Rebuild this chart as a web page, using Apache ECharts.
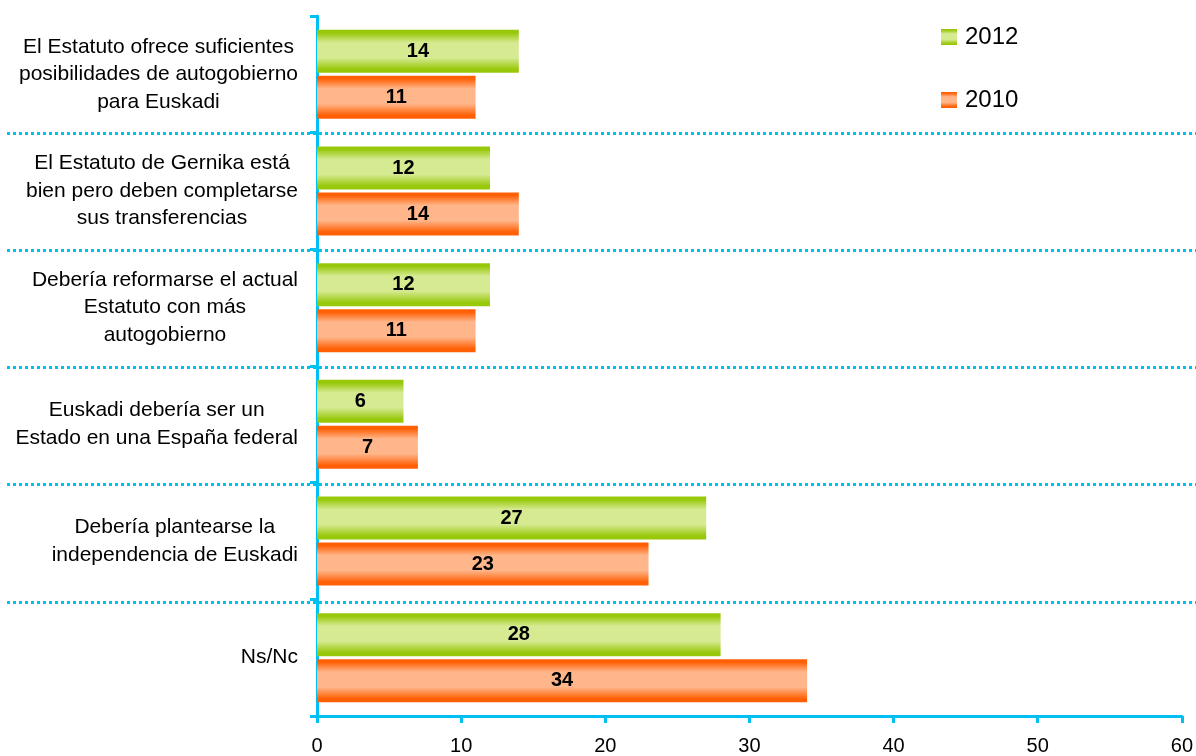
<!DOCTYPE html>
<html>
<head>
<meta charset="utf-8">
<script src="https://cdn.jsdelivr.net/npm/echarts@6/dist/echarts.min.js"></script>
<style>
  html, body { margin: 0; padding: 0; background: #fff; }
  #chart { width: 1196px; height: 756px; }
</style>
</head>
<body>
<div id="chart"></div>
<script>
// Opiniones sobre el Estatuto (%), 2012 frente a 2010
const categories = [
  'El Estatuto ofrece suficientes\nposibilidades de autogobierno\npara Euskadi',
  'El Estatuto de Gernika está\nbien pero deben completarse\nsus transferencias',
  'Debería reformarse el actual\nEstatuto con más\nautogobierno',
  'Euskadi debería ser un\nEstado en una España federal',
  'Debería plantearse la\nindependencia de Euskadi',
  'Ns/Nc'
];
const values2012 = [14, 12, 12, 6, 27, 28];
const values2010 = [11, 14, 11, 7, 23, 34];
const xTicks = { min: 0, max: 60, interval: 10 };

const AXIS_COLOR = '#00BFF3';
const FONT = '"Liberation Sans", Arial, sans-serif';

function bandGradient(dark, light) {
  return new echarts.graphic.LinearGradient(0, 0, 0, 1, [
    { offset: 0, color: dark },
    { offset: 0.07, color: dark },
    { offset: 0.3, color: light },
    { offset: 0.65, color: light },
    { offset: 0.92, color: dark },
    { offset: 1, color: dark }
  ]);
}

const barLabel = {
  show: true,
  position: 'inside',
  color: '#000',
  fontFamily: FONT,
  fontWeight: 'bold',
  fontSize: 20
};

// each label block sits against the axis; its lines are centred inside the block
function categoryLabel(text) {
  return text.split('\n').map(function (line) { return '{c|' + line + '}'; }).join('\n');
}

const chart = echarts.init(document.getElementById('chart'), null, { renderer: 'canvas' });

chart.setOption({
  animation: false,
  backgroundColor: '#fff',
  textStyle: { fontFamily: FONT },
  legend: {
    orient: 'vertical',
    left: 936,
    top: 20,
    icon: 'rect',
    itemWidth: 16,
    itemHeight: 16,
    itemGap: 39,
    textStyle: { fontSize: 24, color: '#000', fontFamily: FONT, padding: [0, 0, 0, 3] },
    data: ['2012', '2010']
  },
  grid: [
    { left: 317, right: 13, top: 16, bottom: 37, containLabel: false },
    // wide band used only for the dotted separators between categories
    { left: 7, right: 0, top: 16, bottom: 37, containLabel: false }
  ],
  xAxis: [
    {
      type: 'value',
      gridIndex: 0,
      min: xTicks.min,
      max: xTicks.max,
      interval: xTicks.interval,
      axisLine: { show: true, lineStyle: { color: AXIS_COLOR, width: 3 } },
      axisTick: { show: true, length: 7, lineStyle: { color: AXIS_COLOR, width: 3 } },
      axisLabel: { color: '#000', fontSize: 20, fontFamily: FONT, margin: 20 },
      splitLine: { show: false }
    },
    {
      type: 'value',
      gridIndex: 1,
      min: 0,
      max: 1,
      show: false
    }
  ],
  yAxis: [
    {
      type: 'category',
      gridIndex: 0,
      inverse: true,
      data: categories,
      axisLine: { show: true, lineStyle: { color: AXIS_COLOR, width: 3 } },
      axisTick: { show: true, length: 7, lineStyle: { color: AXIS_COLOR, width: 3 } },
      axisLabel: {
        color: '#000',
        fontSize: 21,
        fontFamily: FONT,
        lineHeight: 27.5,
        align: 'right',
        margin: 19,
        formatter: categoryLabel,
        rich: {
          c: {
            align: 'center',
            color: '#000',
            fontSize: 21,
            fontFamily: FONT,
            lineHeight: 27.5
          }
        }
      },
      splitLine: { show: false }
    },
    {
      type: 'value',
      gridIndex: 1,
      min: 0,
      max: categories.length,
      interval: 1,
      axisLine: { show: false },
      axisTick: { show: false },
      axisLabel: { show: false },
      splitLine: {
        show: true,
        showMinLine: false,
        showMaxLine: false,
        lineStyle: { color: '#00C0F0', width: 3, type: [3, 3] }
      }
    }
  ],
  series: [
    {
      name: '2012',
      type: 'bar',
      xAxisIndex: 0,
      yAxisIndex: 0,
      data: values2012,
      barWidth: 43,
      barGap: '7%',
      itemStyle: { color: bandGradient('#97C80A', '#D6EA92') },
      label: barLabel
    },
    {
      name: '2010',
      type: 'bar',
      xAxisIndex: 0,
      yAxisIndex: 0,
      data: values2010,
      barWidth: 43,
      barGap: '7%',
      itemStyle: { color: bandGradient('#FF6005', '#FFB68B') },
      label: barLabel
    }
  ]
});
</script>
</body>
</html>
